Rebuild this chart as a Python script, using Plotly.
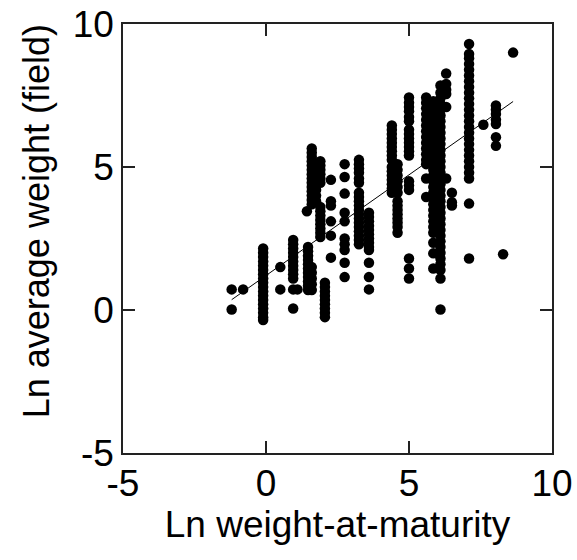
import plotly.graph_objects as go

# Columns of points: x position (Ln weight-at-maturity) and the y values (Ln average weight) read at that x
column_x = [-1.2, -0.8, -0.1, 0.5, 0.95, 1.1, 1.43, 1.47, 1.6, 1.75, 1.9, 2.06, 2.27, 2.75,
            3.25, 3.6, 4.4, 4.6, 5.0, 5.6, 5.85, 6.1, 6.3, 6.5, 7.1, 7.6, 8.04, 8.29, 8.64]
column_y = [
    [0.72, 0.02],
    [0.72],
    [2.15, 2.0, 1.85, 1.7, 1.55, 1.4, 1.25, 1.1, 0.95, 0.8, 0.65, 0.5, 0.35, 0.2, 0.05, -0.1, -0.25, -0.35],
    [1.5, 0.72],
    [2.45, 2.3, 2.15, 2.0, 1.85, 1.7, 1.55, 1.4, 1.25, 1.1, 0.72, 0.05],
    [0.72],
    [3.45],
    [2.2, 2.05, 1.9, 1.75, 1.6, 1.45, 1.3, 1.15, 1.0, 0.85, 0.7],
    [5.65, 5.5, 5.35, 5.2, 5.05, 4.9, 4.75, 4.6, 4.45, 4.3, 4.15, 4.0, 3.85, 3.7, 1.5, 1.3, 1.1, 0.9, 0.7],
    [5.0, 4.8, 4.6, 4.4, 4.2, 4.0, 3.8],
    [5.2, 5.05, 4.9, 4.75, 4.6, 4.45, 3.6, 3.45, 3.3, 3.15, 3.0, 2.85, 2.7, 2.55],
    [0.95, 0.8, 0.65, 0.5, 0.35, 0.2, 0.05, -0.1, -0.25],
    [4.55, 3.8, 3.65, 3.1, 2.6, 1.83],
    [5.1, 4.65, 4.07, 3.4, 3.1, 2.5, 2.3, 2.1, 1.65, 1.15],
    [5.25, 5.1, 4.95, 4.8, 4.6, 4.45, 4.1, 3.95, 3.8, 3.65, 3.5, 3.35, 3.2, 3.05, 2.9, 2.75, 2.6, 2.45, 2.3],
    [3.4, 3.25, 3.1, 2.95, 2.8, 2.65, 2.5, 2.35, 2.2, 2.1, 1.65, 1.15, 0.72],
    [6.45, 6.3, 6.15, 6.0, 5.85, 5.7, 5.55, 5.4, 5.25, 5.0, 4.85, 4.7, 4.55, 4.4, 4.25, 4.1],
    [5.1, 4.9, 4.7, 4.5, 4.3, 4.1, 3.8, 3.65, 3.5, 3.35, 3.2, 3.05, 2.9, 2.7],
    [7.43, 7.25, 7.1, 6.95, 6.75, 6.6, 6.3, 6.15, 6.0, 5.85, 5.7, 5.55, 5.4, 4.5, 4.35, 4.2, 1.8, 1.45, 1.1],
    [7.43, 7.25, 7.05, 6.85, 6.65, 6.45, 6.25, 6.05, 5.85, 5.65, 5.45, 5.25, 5.1, 4.6, 3.95],
    [7.3, 7.1, 6.9, 6.7, 6.5, 6.3, 6.1, 5.9, 5.7, 5.5, 5.3, 5.1, 4.9, 4.7, 4.5, 4.3, 4.1, 3.9, 3.7,
     3.5, 3.3, 3.1, 2.9, 2.7, 2.35, 1.98, 1.45],
    [7.85, 7.6, 7.4, 7.2, 7.0, 6.8, 6.6, 6.4, 6.2, 6.0, 5.8, 5.6, 5.4, 5.2, 5.0, 4.8, 4.6, 4.4, 4.2,
     4.0, 3.8, 3.6, 3.4, 3.2, 3.0, 2.8, 2.6, 2.4, 2.2, 2.0, 1.8, 1.6, 1.4, 1.1, 0.02],
    [8.27, 7.9, 7.7, 7.55, 7.1, 4.6],
    [4.1, 3.77, 3.65],
    [9.3, 8.95, 8.8, 8.6, 8.4, 8.2, 8.0, 7.8, 7.6, 7.4, 7.2, 7.0, 6.8, 6.6, 6.4, 6.2, 6.0, 5.8, 5.6,
     5.4, 5.2, 5.0, 4.8, 4.6, 3.72, 1.8],
    [6.48],
    [7.15, 7.0, 6.85, 6.65, 6.5, 6.04, 5.74],
    [1.95],
    [9.0],
]

# Fitted regression line endpoints
fit_x = [-1.2, 8.64]
fit_y = [0.36, 7.29]

tick_vals = [-5, 0, 5, 10]
tick_text = ["-5", "0", "5", "10"]

x_title = "Ln weight-at-maturity"
y_title = "Ln average weight (field)"

pts_x = []
pts_y = []
for cx, ys in zip(column_x, column_y):
    for yv in ys:
        pts_x.append(cx)
        pts_y.append(yv)

FONT = "Arial, 'Liberation Sans', sans-serif"

fig = go.Figure()
fig.add_trace(go.Scatter(
    x=pts_x, y=pts_y, mode="markers",
    marker=dict(color="black", size=10.5, line=dict(width=0)),
    showlegend=False, hoverinfo="skip",
))
fig.add_trace(go.Scatter(
    x=fit_x, y=fit_y, mode="lines",
    line=dict(color="black", width=1),
    showlegend=False, hoverinfo="skip",
))

axis_common = dict(
    range=[-5, 10], tickvals=tick_vals, ticktext=tick_text,
    ticks="inside", ticklen=12, tickwidth=1.5, tickcolor="#222",
    showline=True, linecolor="#222", linewidth=1.5, mirror="ticks",
    showgrid=False, zeroline=False, automargin=False,
    ticklabeloverflow="allow",
    tickfont=dict(family=FONT, size=37, color="black"),
)

fig.update_layout(
    width=577, height=560,
    margin=dict(l=123, r=25, t=24, b=107),
    paper_bgcolor="white", plot_bgcolor="white",
    font=dict(family=FONT, color="black"),
    xaxis=dict(**axis_common, ticklabelstandoff=-3,
               title=dict(text=x_title, font=dict(family=FONT, size=37), standoff=0)),
    yaxis=dict(**axis_common),
    annotations=[dict(
        text=y_title, textangle=-90, showarrow=False,
        xref="paper", yref="paper", x=-0.203, y=0.54,
        xanchor="center", yanchor="middle",
        font=dict(family=FONT, size=36, color="black"),
    )],
)

# Remove the page's default body margin so the figure fills the window exactly
fig.write_html("out.html", config={"displayModeBar": False},
               post_script="document.body.style.margin='0';")
